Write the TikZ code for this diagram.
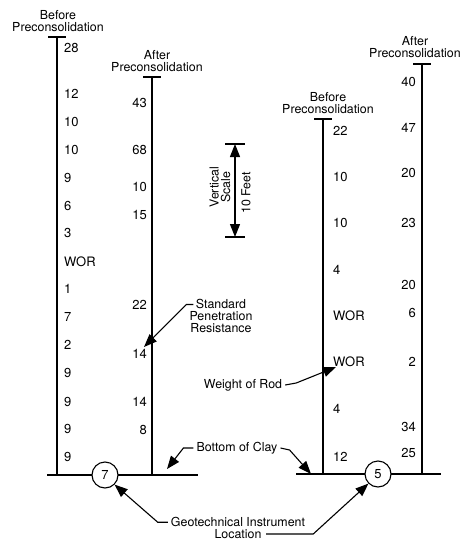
\documentclass[tikz,border=0pt]{standalone}
\usepackage{fontspec}
\setmainfont{TeX Gyre Heros}
\usepackage{tikz}
\usetikzlibrary{arrows.meta,positioning}
\tikzset{
soilhead/.style={align=center,inner sep=0pt,font=\fontsize{12.4}{11.6}\selectfont},
soilnum/.style={inner sep=0pt,font=\fontsize{13}{13}\selectfont},
soilcol/.style={line width=1.3pt},
soilgnd/.style={line width=1.6pt},
soilloc/.style={circle,draw,line width=1.1pt,fill=white,minimum size=26pt,inner sep=0pt,font=\fontsize{13}{13}\selectfont},
soilarr/.style={line width=1.1pt,-{Triangle[length=13pt,width=10pt]}}
}
\begin{document}
\begin{tikzpicture}[x=1pt,y=-1pt]
\useasboundingbox (0,0) rectangle (461,543);
\node[soilhead] (blh) at (58,21) {Before\\Preconsolidation};
\node[soilhead] (alh) at (157,61) {After\\Preconsolidation};
\node[soilhead] (brh) at (328,103) {Before\\Preconsolidation};
\node[soilhead] (arh) at (415,47) {After\\Preconsolidation};
\coordinate (bltop) at (57,37);
\coordinate (blbot) at (57,475);
\coordinate (altop) at (152,77);
\coordinate (albot) at (152,475);
\coordinate (brtop) at (323,119);
\coordinate (brbot) at (323,474);
\coordinate (artop) at (422,64);
\coordinate (arbot) at (422,474);
\draw[soilcol] (bltop) -- (blbot);
\draw[soilcol] (altop) -- (albot);
\draw[soilcol] (brtop) -- (brbot);
\draw[soilcol] (artop) -- (arbot);
\foreach \c in {bltop,altop,brtop,artop}
  \draw[soilcol] ([xshift=-9pt]\c) -- ([xshift=9pt]\c);
\coordinate (glw) at (47,475);
\coordinate (gle) at (198,475);
\coordinate (grw) at (296,474);
\coordinate (gre) at (441,474);
\draw[soilgnd] (glw) -- (gle);
\draw[soilgnd] (grw) -- (gre);
\node[soilloc] (loc7) at (105,475) {7};
\node[soilloc] (loc5) at (378,474) {5};
\foreach \v/\y [count=\i] in {28/48,12/94,10/122,10/150,9/178,6/206,3/233,WOR/262,1/289,7/317,2/345,9/373,9/402,9/429,9/457}
  \node[soilnum,anchor=west] (bl\i) at (64,\y) {\v};
\foreach \v/\y [count=\i] in {43/103,68/150,10/187,15/215,22/305,14/354,14/402,8/430}
  \node[soilnum,anchor=east] (al\i) at (147,\y) {\v};
\foreach \v/\y [count=\i] in {22/131,10/177,10/223,4/270,WOR/316,WOR/362,4/409,12/457}
  \node[soilnum,anchor=west] (br\i) at (333,\y) {\v};
\foreach \v/\y [count=\i] in {40/82,47/128,20/173,23/223,20/285,6/313,2/362,34/427,25/453}
  \node[soilnum,anchor=east] (ar\i) at (416,\y) {\v};
\coordinate (vtop) at (235,144);
\coordinate (vbot) at (235,237);
\draw[soilcol,{Triangle[length=13pt,width=10pt]}-{Triangle[length=13pt,width=10pt]}] (vtop) -- (vbot);
\draw[soilcol] ([xshift=-10pt]vtop) -- ([xshift=10pt]vtop);
\draw[soilcol] ([xshift=-10pt]vbot) -- ([xshift=10pt]vbot);
\node[soilhead,rotate=90] (vscale) at (220,187) {Vertical\\Scale};
\node[soilhead,rotate=90] (tenft) at (246,193) {10 Feet};
\node[soilhead] (spt) at (221,316) {Standard\\Penetration\\Resistance};
\node[soilhead] (wor) at (243,385) {Weight of Rod};
\node[soilhead] (clay) at (237,448) {Bottom of Clay};
\node[soilhead] (geo) at (238,528) {Geotechnical Instrument\\Location};
\coordinate (spttip) at (144,347);
\coordinate (wortip) at (336,367);
\coordinate (claytipl) at (167,469);
\coordinate (claytipr) at (311,474);
\draw[soilarr] ([xshift=-3pt]spt.north west) ++(7,5) -- ++(-7,0) -- (spttip);
\draw[soilarr] ([xshift=3pt]wor.east) -- ++(11,-2) -- (wortip);
\draw[soilarr] ([xshift=-3pt]clay.west) -- ++(-10,0) -- (claytipl);
\draw[soilarr] ([xshift=3pt]clay.east) -- ++(9,2) -- (claytipr);
\draw[soilarr] ([xshift=-3pt]geo.north west) ++(0,5) -- ++(-10,0) -- (loc7.-45);
\draw[soilarr] ([xshift=3pt]geo.east) ++(-42,6) -- ++(47,0) -- (loc5.-135);
\end{tikzpicture}
\end{document}
